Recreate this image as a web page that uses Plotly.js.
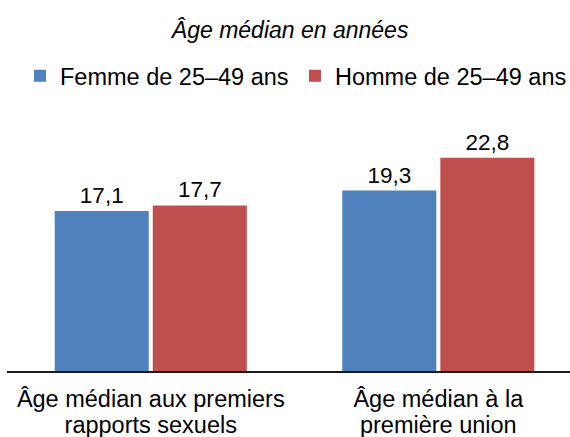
<!DOCTYPE html>
<html>
<head>
<meta charset="utf-8">
<script src="https://cdn.plot.ly/plotly-3.0.1.min.js"></script>
<style>html,body{margin:0;padding:0;background:#fff;}#chart{width:570px;height:437px;}</style>
</head>
<body>
<div id="chart"></div>
<script>
var categories = ["Âge médian aux premiers<br>rapports sexuels", "Âge médian à la<br>première union"];
var femmeValues = [17.1, 19.3];
var hommeValues = [17.7, 22.8];
var seriesNames = ["Femme de 25–49 ans", "Homme de 25–49 ans"];
var titleText = "<i>Âge médian en années</i>";

var FONT = "Liberation Sans, Arial, sans-serif";
var line1 = categories.map(function (c) { return c.split("<br>")[0]; });
var line2 = categories.map(function (c) { return c.split("<br>")[1]; });
var idx = categories.map(function (c, i) { return i; });

var traces = [
  {type: "bar", name: seriesNames[0], x: categories, y: femmeValues,
   marker: {color: "#4F81BD"}, texttemplate: "%{y:.1f}", textposition: "outside",
   cliponaxis: false, textfont: {family: FONT, size: 22.5, color: "#000"}, hoverinfo: "none"},
  {type: "bar", name: seriesNames[1], x: categories, y: hommeValues,
   marker: {color: "#C0504D"}, texttemplate: "%{y:.1f}", textposition: "outside",
   cliponaxis: false, textfont: {family: FONT, size: 22.5, color: "#000"}, hoverinfo: "none"},
  // invisible helper trace so the second-line label axis is created
  {type: "scatter", mode: "none", x: idx, y: idx.map(function () { return 0; }),
   xaxis: "x2", yaxis: "y", showlegend: false, hoverinfo: "none"}
];

var layout = {
  width: 570, height: 437,
  margin: {l: 7, r: 0, t: 120, b: 66, pad: 0},
  paper_bgcolor: "#fff", plot_bgcolor: "#fff",
  separators: ", ",
  font: {family: FONT, size: 23, color: "#000"},
  title: {text: titleText, x: 0.509, xanchor: "center", y: 1 - 30/437, yanchor: "middle",
          font: {family: FONT, size: 23, color: "#000"}},
  showlegend: true,
  legend: {orientation: "h", x: 22/570, xanchor: "left", y: 1 - 76/437, yref: "container", yanchor: "middle",
           entrywidth: 230, entrywidthmode: "pixels",
           font: {family: FONT, size: 23.5, color: "#000"}, traceorder: "normal", itemclick: false},
  barmode: "group", bargap: 0.318, bargroupgap: 0.041,
  xaxis: {type: "category", range: [-0.5, 1.458], showline: true, linecolor: "#1a1a1a", linewidth: 1.5,
          ticks: "", showgrid: false, zeroline: false, fixedrange: true,
          tickmode: "array", tickvals: categories, ticktext: line1, ticklabelstandoff: 6,
          tickfont: {family: FONT, size: 23.5, color: "#000"}},
  xaxis2: {type: "linear", overlaying: "x", anchor: "y", side: "bottom", range: [-0.5, 1.458],
           showline: false, ticks: "", showgrid: false, zeroline: false, fixedrange: true,
           tickmode: "array", tickvals: idx, ticktext: line2, ticklabelstandoff: 37,
           tickfont: {family: FONT, size: 23.5, color: "#000"}},
  yaxis: {range: [0, 26.84], visible: false, showgrid: false, zeroline: false, fixedrange: true}
};

Plotly.newPlot("chart", traces, layout, {displayModeBar: false, staticPlot: true});
</script>
</body>
</html>
